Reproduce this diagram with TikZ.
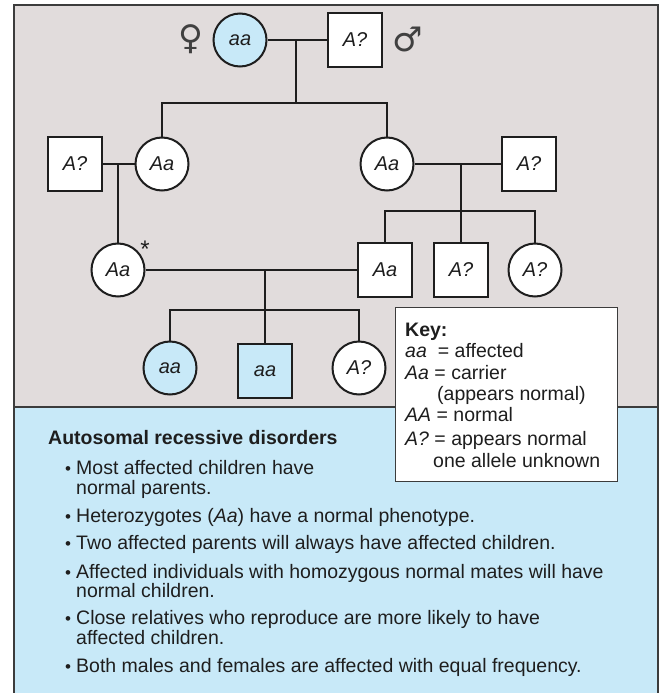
\documentclass[tikz,border=0pt]{standalone}
\usepackage{fontspec}
\setmainfont{Liberation Sans}
\newfontfamily\symfont{DejaVu Sans}
\definecolor{bggray}{RGB}{225,220,220}
\definecolor{bgblue}{RGB}{200,233,248}
\definecolor{ink}{RGB}{30,30,30}
\definecolor{framec}{RGB}{60,60,60}
\begin{document}
\begin{tikzpicture}[x=1pt,y=-1pt,
  person/.style={draw=ink, line width=2pt, fill=white, inner sep=0pt,
    font=\fontsize{20}{21}\selectfont\itshape, text=ink},
  fem/.style={person, circle, minimum size=53pt},
  mal/.style={person, rectangle, minimum size=54pt},
  aff/.style={fill=bgblue},
  link/.style={draw=ink, line width=2.4pt},
  txt/.style={anchor=base west, inner sep=0pt, font=\fontsize{19.5}{21}\selectfont, text=ink},
  bul/.style={anchor=base, inner sep=0pt, font=\fontsize{17}{17}\selectfont, text=ink},
  sym/.style={inner sep=0pt, font=\symfont\fontsize{34}{34}\selectfont, text=ink!85},
]
\useasboundingbox (0,0) rectangle (663,693);
% backgrounds
\fill[white] (0,0) rectangle (663,693);
\fill[bggray] (14,5) rectangle (658,407);
\fill[bgblue] (14,407) rectangle (658,693);
\draw[framec, line width=1.5pt] (14,693) -- (14,5) -- (658,5) -- (658,693);
\draw[framec, line width=1.5pt] (14,407) -- (658,407);

% coordinates of the line junctions
\coordinate (m1) at (296,40);
\coordinate (b1) at (296,103);
\coordinate (m2) at (118,164);
\coordinate (m3) at (461,164);
\coordinate (b3) at (461,211);
\coordinate (m4) at (265,270);
\coordinate (b4) at (265,310);

% persons
\node[fem, aff] (gm) at (240,40) {aa};
\node[mal] (gf) at (355,40) {A?};
\node[sym] (fsym) at (191,39) {♀};
\node[sym] (msym) at (408,39) {♂};

\node[mal] (h1) at (75,164) {A?};
\node[fem] (d1) at (162,164) {Aa};
\node[fem] (d2) at (387,164) {Aa};
\node[mal] (h2) at (529,164) {A?};

\node[fem] (g3) at (118,270) {Aa};
\node[inner sep=0pt, anchor=base, font=\fontsize{24}{24}\selectfont, text=ink] (ast) at (145,257) {*};
\node[mal] (s1) at (385,270) {Aa};
\node[mal] (s2) at (461,270) {A?};
\node[fem] (s3) at (535,270) {A?};

\node[fem, aff] (c1) at (170,368) {aa};
\node[mal, aff] (c2) at (265,371) {aa};
\node[fem] (c3) at (359,368) {A?};

% connectors
\draw[link] (gm) -- (gf);
\draw[link] (m1) -- (b1);
\draw[link] (d1.north) |- (b1) -| (d2.north);
\draw[link] (h1) -- (d1);
\draw[link] (m2) -- (g3.north);
\draw[link] (d2) -- (h2);
\draw[link] (m3) -- (b3);
\draw[link] (s1.north) |- (b3) -| (s3.north);
\draw[link] (b3) -- (s2.north);
\draw[link] (g3) -- (s1);
\draw[link] (m4) -- (b4);
\draw[link] (c1.north) |- (b4) -| (c3.north);
\draw[link] (b4) -- (c2.north);

% key
\node[draw=framec, line width=1pt, fill=white, anchor=north west, inner sep=0pt,
      minimum width=222pt, minimum height=174pt] (keybox) at (395,307) {};
\node[txt, font=\fontsize{19.5}{21}\selectfont\bfseries] (k1) at (405,336) {Key:};
\node[txt] (k2) at (405,357) {\textit{aa}\hspace{11pt}= affected};
\node[txt] (k3) at (405,379) {\textit{Aa} = carrier};
\node[txt] (k4) at (437,400) {(appears normal)};
\node[txt] (k5) at (405,421) {\textit{AA} = normal};
\node[txt] (k6) at (405,445) {\textit{A?} = appears normal};
\node[txt] (k7) at (433,467) {one allele unknown};

% rules
\node[txt, font=\fontsize{19.5}{21}\selectfont\bfseries] (title) at (48,444) {Autosomal recessive disorders};
\node[bul] (p1) at (68,474) {•};
\node[txt] (l1) at (76,474) {Most affected children have};
\node[txt] (l1b) at (76,494) {normal parents.};
\node[bul] (p2) at (68,522) {•};
\node[txt] (l2) at (76,522) {Heterozygotes (\textit{Aa}) have a normal phenotype.};
\node[bul] (p3) at (68,549) {•};
\node[txt] (l3) at (76,549) {Two affected parents will always have affected children.};
\node[bul] (p4) at (68,578) {•};
\node[txt] (l4) at (76,578) {Affected individuals with homozygous normal mates will have};
\node[txt] (l4b) at (76,597) {normal children.};
\node[bul] (p5) at (68,624) {•};
\node[txt] (l5) at (76,624) {Close relatives who reproduce are more likely to have};
\node[txt] (l5b) at (76,644) {affected children.};
\node[bul] (p6) at (68,672) {•};
\node[txt] (l6) at (76,672) {Both males and females are affected with equal frequency.};
\end{tikzpicture}
\end{document}
